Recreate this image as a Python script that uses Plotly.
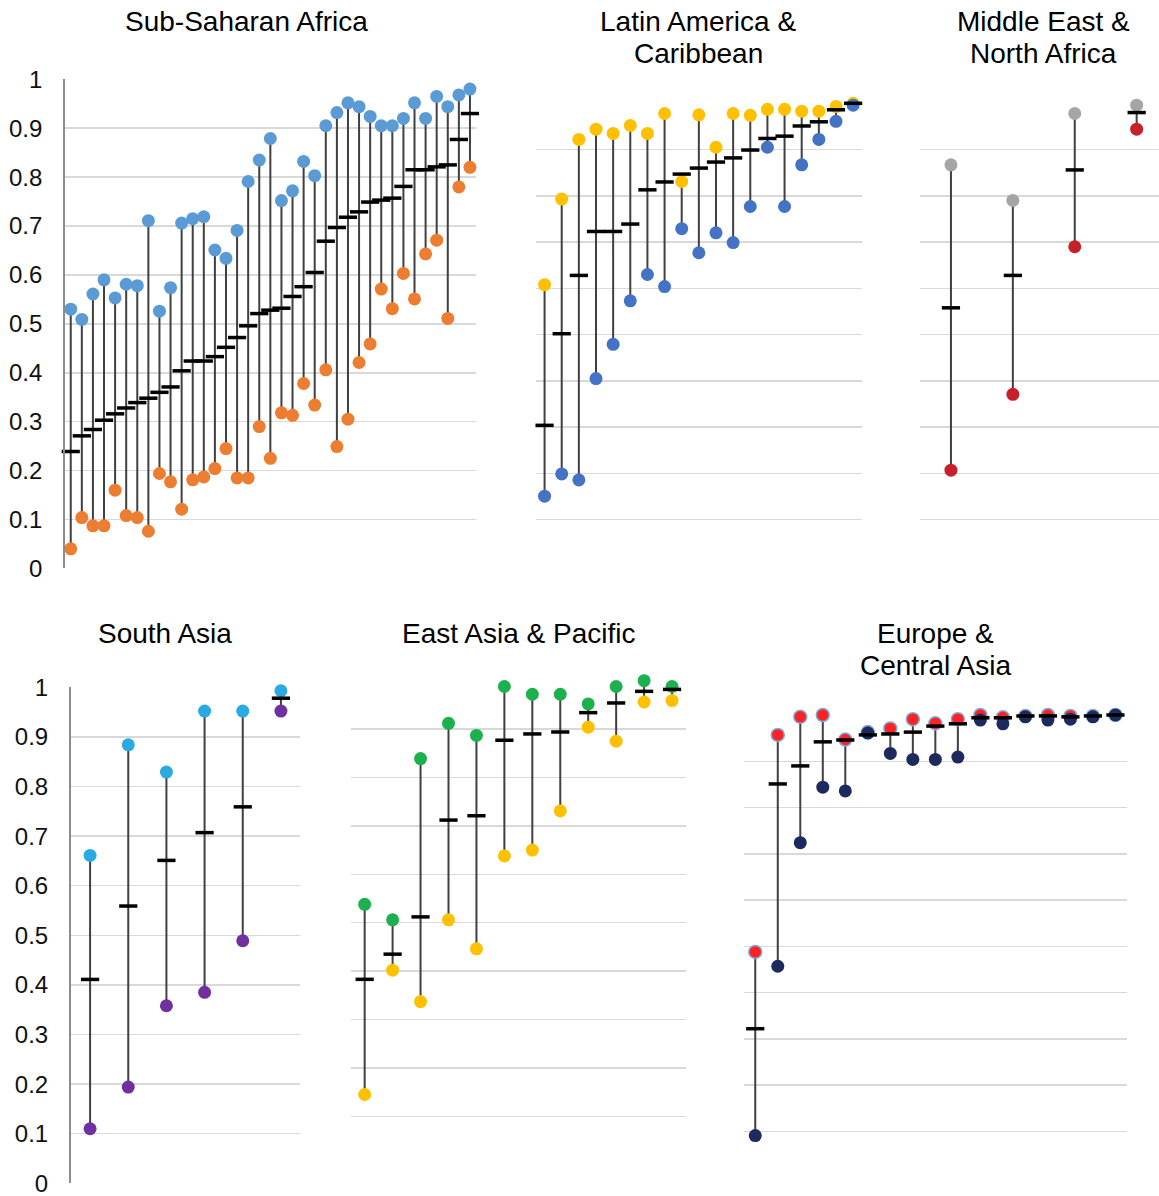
import plotly.graph_objects as go

# ---------------- data ----------------
ssa_high = [0.530, 0.509, 0.561, 0.590, 0.553, 0.581, 0.578, 0.711, 0.526, 0.574,
            0.706, 0.715, 0.719, 0.651, 0.634, 0.691, 0.791, 0.835, 0.879, 0.752,
            0.772, 0.832, 0.803, 0.905, 0.932, 0.952, 0.944, 0.924, 0.905, 0.905,
            0.920, 0.952, 0.920, 0.965, 0.944, 0.968, 0.980]
ssa_low = [0.040, 0.104, 0.087, 0.087, 0.160, 0.108, 0.104, 0.076, 0.194, 0.177,
           0.121, 0.181, 0.187, 0.204, 0.245, 0.185, 0.185, 0.290, 0.225, 0.318,
           0.313, 0.378, 0.334, 0.406, 0.249, 0.305, 0.421, 0.459, 0.571, 0.531,
           0.603, 0.551, 0.643, 0.671, 0.511, 0.780, 0.820]
ssa_mid = [0.239, 0.271, 0.284, 0.303, 0.316, 0.328, 0.339, 0.348, 0.360, 0.371,
           0.404, 0.424, 0.424, 0.433, 0.452, 0.472, 0.496, 0.521, 0.528, 0.532,
           0.556, 0.576, 0.605, 0.669, 0.697, 0.718, 0.729, 0.749, 0.753, 0.757,
           0.781, 0.815, 0.815, 0.821, 0.825, 0.877, 0.930]

lac_high = [0.608, 0.793, 0.922, 0.944, 0.935, 0.952, 0.935, 0.978, 0.831, 0.975,
            0.905, 0.978, 0.974, 0.987, 0.987, 0.983, 0.983, 0.993, 1.000]
lac_low = [0.151, 0.199, 0.186, 0.405, 0.479, 0.573, 0.630, 0.604, 0.729, 0.677,
           0.720, 0.699, 0.777, 0.905, 0.777, 0.867, 0.922, 0.961, 0.996]
lac_mid = [0.304, 0.502, 0.628, 0.723, 0.723, 0.739, 0.813, 0.830, 0.847, 0.860,
           0.873, 0.882, 0.899, 0.924, 0.929, 0.951, 0.960, 0.986, 1.000]

mena_high = [0.867, 0.790, 0.978, 0.996]
mena_low = [0.207, 0.371, 0.690, 0.944]
mena_mid = [0.558, 0.628, 0.856, 0.980]

sa_high = [0.661, 0.884, 0.829, 0.952, 0.952, 0.993]
sa_low = [0.110, 0.194, 0.358, 0.385, 0.489, 0.952]
sa_mid = [0.411, 0.559, 0.651, 0.707, 0.759, 0.978]

eap_high = [0.538, 0.506, 0.839, 0.912, 0.887, 0.988, 0.972, 0.972, 0.952, 0.988, 1.000, 0.988]
eap_low = [0.145, 0.402, 0.337, 0.506, 0.446, 0.638, 0.650, 0.731, 0.904, 0.875, 0.956, 0.959]
eap_mid = [0.383, 0.435, 0.512, 0.712, 0.721, 0.877, 0.890, 0.894, 0.934, 0.954, 0.978, 0.982]

eca_high = [0.488, 0.957, 0.996, 1.000, 0.947, 0.963, 0.971, 0.991, 0.982, 0.991,
            1.000, 0.995, 0.998, 1.000, 0.998, 0.998, 1.000]
eca_low = [0.091, 0.457, 0.724, 0.844, 0.836, 0.961, 0.917, 0.904, 0.904, 0.909,
           0.989, 0.981, 0.996, 0.989, 0.991, 0.996, 1.000]
eca_mid = [0.322, 0.851, 0.890, 0.942, 0.946, 0.957, 0.959, 0.963, 0.976, 0.981,
           0.994, 0.994, 0.998, 0.998, 0.996, 0.998, 1.000]

titles = [["Sub-Saharan Africa"], ["Latin America &", "Caribbean"],
          ["Middle East &", "North Africa"], ["South Asia"],
          ["East Asia & Pacific"], ["Europe &", "Central Asia"]]
y_ticks = [0, 0.1, 0.2, 0.3, 0.4, 0.5, 0.6, 0.7, 0.8, 0.9, 1]
y_ticktext = ["0", "0.1", "0.2", "0.3", "0.4", "0.5", "0.6", "0.7", "0.8", "0.9", "1"]

# ---------------- layout geometry (window pixels) ----------------
W, H = 1159, 1196
FONT = "Liberation Sans, Arial, Helvetica, sans-serif"


def fx(p):
    return p / W


def fy(p):
    return 1 - p / H


panels = [
    dict(high=ssa_high, low=ssa_low, mid=ssa_mid, hc="#5B9BD5", lc="#ED7D31", hline=None,
         xpx=(65.2, 475.5), ypx=(568.4, 79.3), xr=None, labels=True,
         title=titles[0], tx=247, ty=21),
    dict(high=lac_high, low=lac_low, mid=lac_mid, hc="#FFC000", lc="#4472C4", hline=None,
         xpx=(536, 861.7), ypx=(566, 103.3), xr=None, labels=False,
         title=titles[1], tx=698, ty=21),
    dict(high=mena_high, low=mena_low, mid=mena_mid, hc="#A5A5A5", lc="#C8202A", hline=None,
         xpx=(920, 1159), ypx=(566, 103.3), xr=[-0.5, -0.5 + 239 / 61.9], labels=False,
         title=titles[2], tx=1043, ty=21),
    dict(high=sa_high, low=sa_low, mid=sa_mid, hc="#29ABE2", lc="#7030A0", hline=None,
         xpx=(71, 300), ypx=(1183.3, 687.3), xr=None, labels=True,
         title=titles[3], tx=165, ty=633),
    dict(high=eap_high, low=eap_low, mid=eap_mid, hc="#1DB04E", lc="#FFC000", hline=None,
         xpx=(350.7, 686), ypx=(1164.7, 680.7), xr=None, labels=False,
         title=titles[4], tx=518, ty=633),
    dict(high=eca_high, low=eca_low, mid=eca_mid, hc="#FF2222", lc="#1C2A5E", hline="#79AEE0",
         xpx=(744, 1126.7), ypx=(1177.7, 715), xr=None, labels=False,
         title=titles[5], tx=935, ty=633),
]
LINE_GAP = 32

fig = go.Figure()
layout = dict(
    template="none",
    width=W, height=H, margin=dict(l=0, r=0, t=0, b=0, pad=0, autoexpand=False),
    paper_bgcolor="white", plot_bgcolor="white", showlegend=False,
    hovermode=False, font=dict(family=FONT, color="#000000"),
)
annotations = []

for k, p in enumerate(panels):
    n = len(p["high"])
    idx = list(range(n))
    sfx = "" if k == 0 else str(k + 1)
    xa, ya = "x" + sfx, "y" + sfx

    # connector lines
    lx, ly = [], []
    for i in idx:
        lx += [i, i, None]
        ly += [p["low"][i], p["high"][i], None]
    fig.add_trace(go.Scatter(x=lx, y=ly, mode="lines", xaxis=xa, yaxis=ya,
                             line=dict(color="#404040", width=2), cliponaxis=False))
    # upper markers
    mline = dict(width=1.5, color=p["hline"]) if p["hline"] else dict(width=0)
    fig.add_trace(go.Scatter(x=idx, y=p["high"], mode="markers", xaxis=xa, yaxis=ya,
                             marker=dict(size=13, color=p["hc"], line=mline), cliponaxis=False))
    # lower markers
    fig.add_trace(go.Scatter(x=idx, y=p["low"], mode="markers", xaxis=xa, yaxis=ya,
                             marker=dict(size=13, color=p["lc"], line=dict(width=0)), cliponaxis=False))
    # mid dashes
    fig.add_trace(go.Scatter(x=idx, y=p["mid"], mode="markers", xaxis=xa, yaxis=ya,
                             marker=dict(symbol="line-ew", size=13,
                                         line=dict(width=3.5, color="#000000")),
                             cliponaxis=False))

    xr = p["xr"] if p["xr"] else [-0.5, n - 0.5]
    layout["xaxis" + sfx] = dict(
        domain=[fx(p["xpx"][0]), min(1.0, fx(p["xpx"][1]))], range=xr, anchor=ya,
        showgrid=False, zeroline=False, showticklabels=False, showline=False,
        ticks="", fixedrange=True, automargin=False,
    )
    yax = dict(
        domain=[fy(p["ypx"][0]), fy(p["ypx"][1])], range=[0, 1], anchor=xa,
        tickmode="array", tickvals=y_ticks, ticktext=y_ticktext,
        showgrid=True, gridcolor="#D9D9D9", gridwidth=1.5, zeroline=False,
        ticks="", fixedrange=True, automargin=False, ticklabeloverflow="allow",
        showticklabels=p["labels"],
        tickfont=dict(size=24, family=FONT, color="#111111"),
    )
    if p["labels"]:
        yax.update(showline=True, linecolor="#8C8C8C", linewidth=2, ticklabelstandoff=16)
    else:
        yax.update(showline=False)
    layout["yaxis" + sfx] = yax

    for j, line in enumerate(p["title"]):
        annotations.append(dict(
            text=line, x=fx(p["tx"]), y=fy(p["ty"] + j * LINE_GAP), xref="paper", yref="paper",
            xanchor="center", yanchor="middle", showarrow=False, align="center",
            font=dict(size=28, family=FONT, color="#000000"),
        ))

layout["annotations"] = annotations
fig.update_layout(**layout)
fig.write_html(
    "out.html",
    config={"displayModeBar": False, "staticPlot": True},
    post_script="document.body.style.margin='0';document.body.style.overflow='hidden';",
)
